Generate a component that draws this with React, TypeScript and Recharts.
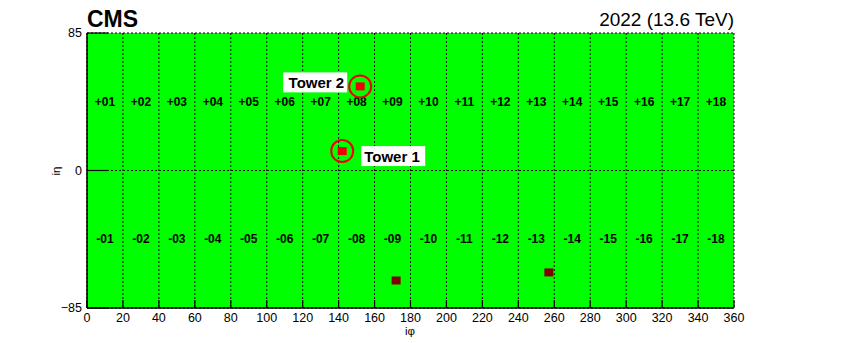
import React from 'react';
import { ScatterChart, Scatter, XAxis, YAxis, CartesianGrid } from 'recharts';

const phiTicks = [0, 20, 40, 60, 80, 100, 120, 140, 160, 180, 200, 220, 240, 260, 280, 300, 320, 340, 360];
const etaTicks = [-85, 0, 85];
const binCentersPhi = [10, 30, 50, 70, 90, 110, 130, 150, 170, 190, 210, 230, 250, 270, 290, 310, 330, 350];
const plusLabels = ['+01', '+02', '+03', '+04', '+05', '+06', '+07', '+08', '+09', '+10', '+11', '+12', '+13', '+14', '+15', '+16', '+17', '+18'];
const minusLabels = ['-01', '-02', '-03', '-04', '-05', '-06', '-07', '-08', '-09', '-10', '-11', '-12', '-13', '-14', '-15', '-16', '-17', '-18'];
const plusRowEta = 42.5;
const minusRowEta = -42.5;

const hotTowerPhi = [152, 142];
const hotTowerEta = [52, 12];
const hotTowerNames = ['Tower 2', 'Tower 1'];

const deadTowerPhi = [172, 257];
const deadTowerEta = [-68, -63];

const labelData = [
  ...binCentersPhi.map((x, i) => ({ x, y: plusRowEta, label: plusLabels[i] })),
  ...binCentersPhi.map((x, i) => ({ x, y: minusRowEta, label: minusLabels[i] })),
];
const hotData = hotTowerPhi.map((x, i) => ({ x, y: hotTowerEta[i], name: hotTowerNames[i] }));
const deadData = deadTowerPhi.map((x, i) => ({ x, y: deadTowerEta[i] }));

const FONT = '"Liberation Sans", Arial, Helvetica, sans-serif';

const LabelShape = (props: any) => {
  const { cx, cy, payload } = props;
  return (
    <text x={cx} y={cy} textAnchor="middle" dominantBaseline="central" fontFamily={FONT} fontWeight="bold" fontSize={12} fill="#000">
      {payload.label}
    </text>
  );
};

const HotShape = (props: any) => {
  const { cx, cy, payload } = props;
  const left = payload.name === 'Tower 2';
  const boxW = 64;
  const boxH = 20;
  const ly = left ? cy - 4 : cy + 5;
  const bx = left ? cx - 13 - boxW : cx + 19;
  return (
    <g>
      <rect x={cx - 4.5} y={cy - 4} width={9} height={8} fill="#f00000" />
      <circle cx={cx} cy={cy} r={11} fill="none" stroke="#f00000" strokeWidth={2} />
      <rect x={bx} y={ly - boxH / 2} width={boxW} height={boxH} fill="#fff" />
      <text x={left ? bx + boxW - 3 : bx + 3} y={ly} textAnchor={left ? 'end' : 'start'} dominantBaseline="central" fontFamily={FONT} fontWeight="bold" fontSize={15} fill="#000">
        {payload.name}
      </text>
    </g>
  );
};

const DeadShape = (props: any) => {
  const { cx, cy } = props;
  return <rect x={cx - 4.5} y={cy - 4} width={9} height={8} fill="#800000" />;
};

const XTick = (props: any) => {
  const { x, y, payload } = props;
  return (
    <g>
      <line x1={x} x2={x} y1={y} y2={y - 8} stroke="#000" strokeWidth={1.2} />
      <text x={x} y={y + 13.5} textAnchor="middle" fontFamily={FONT} fontSize={12.5} fill="#000">
        {payload.value}
      </text>
    </g>
  );
};

const YTick = (props: any) => {
  const { x, y, payload } = props;
  const v = payload.value;
  const s = v < 0 ? '\u2212' + Math.abs(v) : String(v);
  return (
    <g>
      <line x1={x} x2={x + 21} y1={y} y2={y} stroke="#000" strokeWidth={1.2} />
      <text x={x - 5} y={y} dy="0.35em" textAnchor="end" fontFamily={FONT} fontSize={12.5} fill="#000">
        {s}
      </text>
    </g>
  );
};

export default function App() {
  return (
    <div style={{ position: 'absolute', left: 0, top: 0, width: 864, height: 343, background: '#fff' }}>
      <ScatterChart width={864} height={343} margin={{ top: 33, right: 130, bottom: 0, left: 0 }}>
        <CartesianGrid fill="#00ff00" fillOpacity={1} stroke="#000" strokeDasharray="2 2" strokeWidth={1} />
        <XAxis
          type="number"
          dataKey="x"
          domain={[0, 360]}
          ticks={phiTicks}
          interval={0}
          height={35}
          tickSize={0}
          tickMargin={0}
          tickLine={false}
          tick={<XTick />}
          axisLine={{ stroke: '#000', strokeWidth: 1.5 }}
          allowDataOverflow
        />
        <YAxis
          type="number"
          dataKey="y"
          domain={[-85, 85]}
          ticks={etaTicks}
          interval={0}
          width={87}
          tickSize={0}
          tickMargin={0}
          tickLine={false}
          tick={<YTick />}
          axisLine={{ stroke: '#000', strokeWidth: 1.5 }}
          allowDataOverflow
        />
        <Scatter data={labelData} shape={<LabelShape />} isAnimationActive={false} />
        <Scatter data={deadData} shape={<DeadShape />} isAnimationActive={false} />
        <Scatter data={hotData} shape={<HotShape />} isAnimationActive={false} />
        <text x={87} y={26.5} fontFamily={FONT} fontWeight="bold" fontSize={23} fill="#000">CMS</text>
        <text x={734} y={26} textAnchor="end" fontFamily={FONT} fontSize={19} fill="#000">2022 (13.6 TeV)</text>
        <text x={410} y={335} textAnchor="middle" fontFamily={FONT} fontSize={11.5} fill="#000">iφ</text>
        <text x={60} y={171} textAnchor="middle" transform="rotate(-90 60 171)" fontFamily={FONT} fontSize={11.5} fill="#000">iη</text>
      </ScatterChart>
    </div>
  );
}
